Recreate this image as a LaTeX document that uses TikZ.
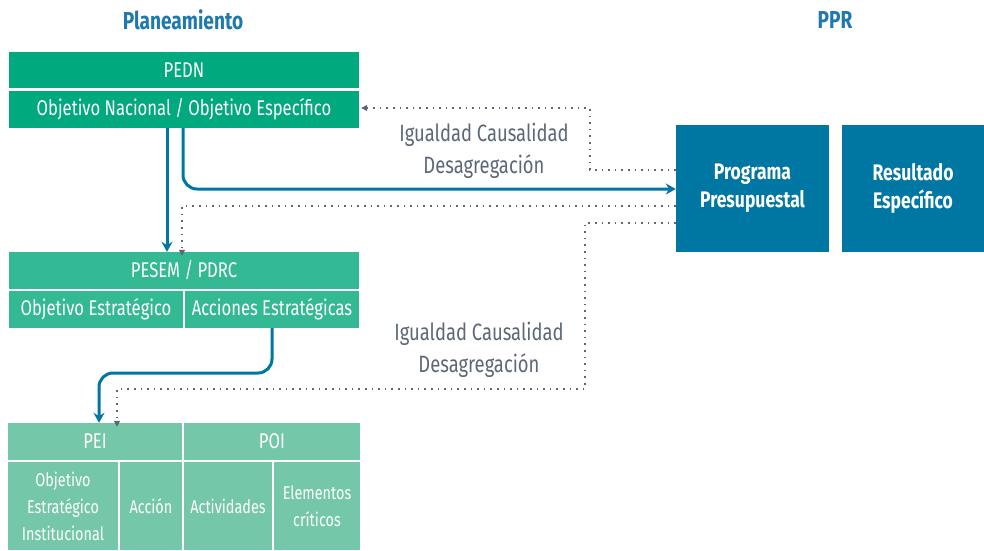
\documentclass[tikz,border=0pt]{standalone}
\usepackage{fontspec}
\setmainfont[FakeStretch=0.78]{Fira Sans}
\usetikzlibrary{arrows.meta}
\definecolor{gA}{HTML}{00AA7E}
\definecolor{gB}{HTML}{33B993}
\definecolor{gC}{HTML}{74C7A8}
\definecolor{bl}{HTML}{0077A2}
\definecolor{tl}{HTML}{1F78AE}
\definecolor{gr}{HTML}{5C6777}
\tikzset{
  cell/.style={draw=none, inner sep=0pt, text=white, align=center, font=\fontsize{21.3}{24}\selectfont},
  small/.style={font=\fontsize{18.5}{27}\selectfont},
  pbox/.style={fill=bl, inner sep=0pt, text=white, align=center, font=\bfseries\fontsize{22.5}{28}\selectfont},
  lab/.style={text=gr, align=center, font=\fontsize{23.6}{32}\selectfont},
  ttl/.style={text=tl, font=\bfseries\fontsize{24.5}{26}\selectfont},
  bluearrow/.style={draw=bl, line width=3pt, rounded corners=14pt, -{Stealth[length=10pt,width=11pt]}},
  dotarrow/.style={draw=gr, line width=1.6pt, dash pattern=on 1.6pt off 5pt, -{Triangle[length=6pt,width=6pt]}},
  dotline/.style={draw=gr, line width=1.6pt, dash pattern=on 1.6pt off 5pt}
}
\begin{document}
\begin{tikzpicture}[x=1pt,y=-1pt]
\useasboundingbox (0,0) rectangle (984,550);
% titles
\node[ttl] (t1) at (183,20) {Planeamiento};
\node[ttl] (t2) at (835,20) {PPR};
% PEDN
\node[cell, fill=gA, minimum width=350pt, minimum height=36pt] (pedn) at (184,70) {PEDN};
\node[cell, fill=gA, minimum width=350pt, minimum height=37pt] (obn) at (184,109.5) {Objetivo Nacional / Objetivo Específico};
% PESEM
\node[cell, fill=gB, minimum width=350pt, minimum height=37pt] (pesem) at (184,270.5) {PESEM / PDRC};
\node[cell, fill=gB, minimum width=174pt, minimum height=37pt] (oe) at (96,309.5) {Objetivo Estratégico};
\node[cell, fill=gB, minimum width=174pt, minimum height=37pt] (ae) at (272,309.5) {Acciones Estratégicas};
% bottom
\node[cell, fill=gC, minimum width=174pt, minimum height=37pt] (pei) at (95,441.5) {PEI};
\node[cell, fill=gC, minimum width=176pt, minimum height=37pt] (poi) at (272,441.5) {POI};
\node[cell, small, fill=gC, minimum width=110pt, minimum height=88pt] (oei) at (63,506) {Objetivo\\Estratégico\\Institucional};
\node[cell, small, fill=gC, minimum width=62pt, minimum height=88pt] (acc) at (151,506) {Acción};
\node[cell, small, fill=gC, minimum width=88pt, minimum height=88pt] (act) at (228,506) {Actividades};
\node[cell, small, fill=gC, minimum width=86pt, minimum height=88pt] (ele) at (317,506) {Elementos\\críticos};
% PPR boxes
\node[pbox, minimum width=153pt, minimum height=127pt] (pp) at (752.5,188.5) {Programa\\Presupuestal};
\node[pbox, minimum width=142pt, minimum height=127pt] (re) at (913,188.5) {Resultado\\Específico};
% labels
\node[lab] (l1) at (484,151) {Igualdad Causalidad\\Desagregación};
\node[lab] (l2) at (479,350) {Igualdad Causalidad\\Desagregación};
% coordinates
\coordinate (d1a) at (590,170);
\coordinate (d1b) at (590,108);
\coordinate (d2a) at (182,206);
\coordinate (d3a) at (585,223);
\coordinate (d3b) at (585,389);
\coordinate (d3c) at (117,389);
% blue arrows
\draw[bluearrow] (obn.south -| 167,0) -- (pesem.north -| 167,0);
\draw[bluearrow] (obn.south -| 183,0) -- (183,189) -- (pp.west |- 0,189);
\draw[bluearrow] (ae.south -| 272,0) -- (272,373) -- (99,373) -- (pei.north -| 99,0);
% dotted arrows
\draw[dotarrow] (pp.west |- d1a) -- (d1a) -- (d1b) -- ([xshift=2pt]obn.east |- d1b);
\draw[dotarrow] (pp.west |- d2a) -- (d2a) -- ([yshift=-4pt]pesem.north -| d2a);
\draw[dotarrow] (pp.west |- d3a) -- (d3a) -- (d3b) -- (d3c) -- ([yshift=-4pt]pei.north -| d3c);
\end{tikzpicture}
\end{document}
